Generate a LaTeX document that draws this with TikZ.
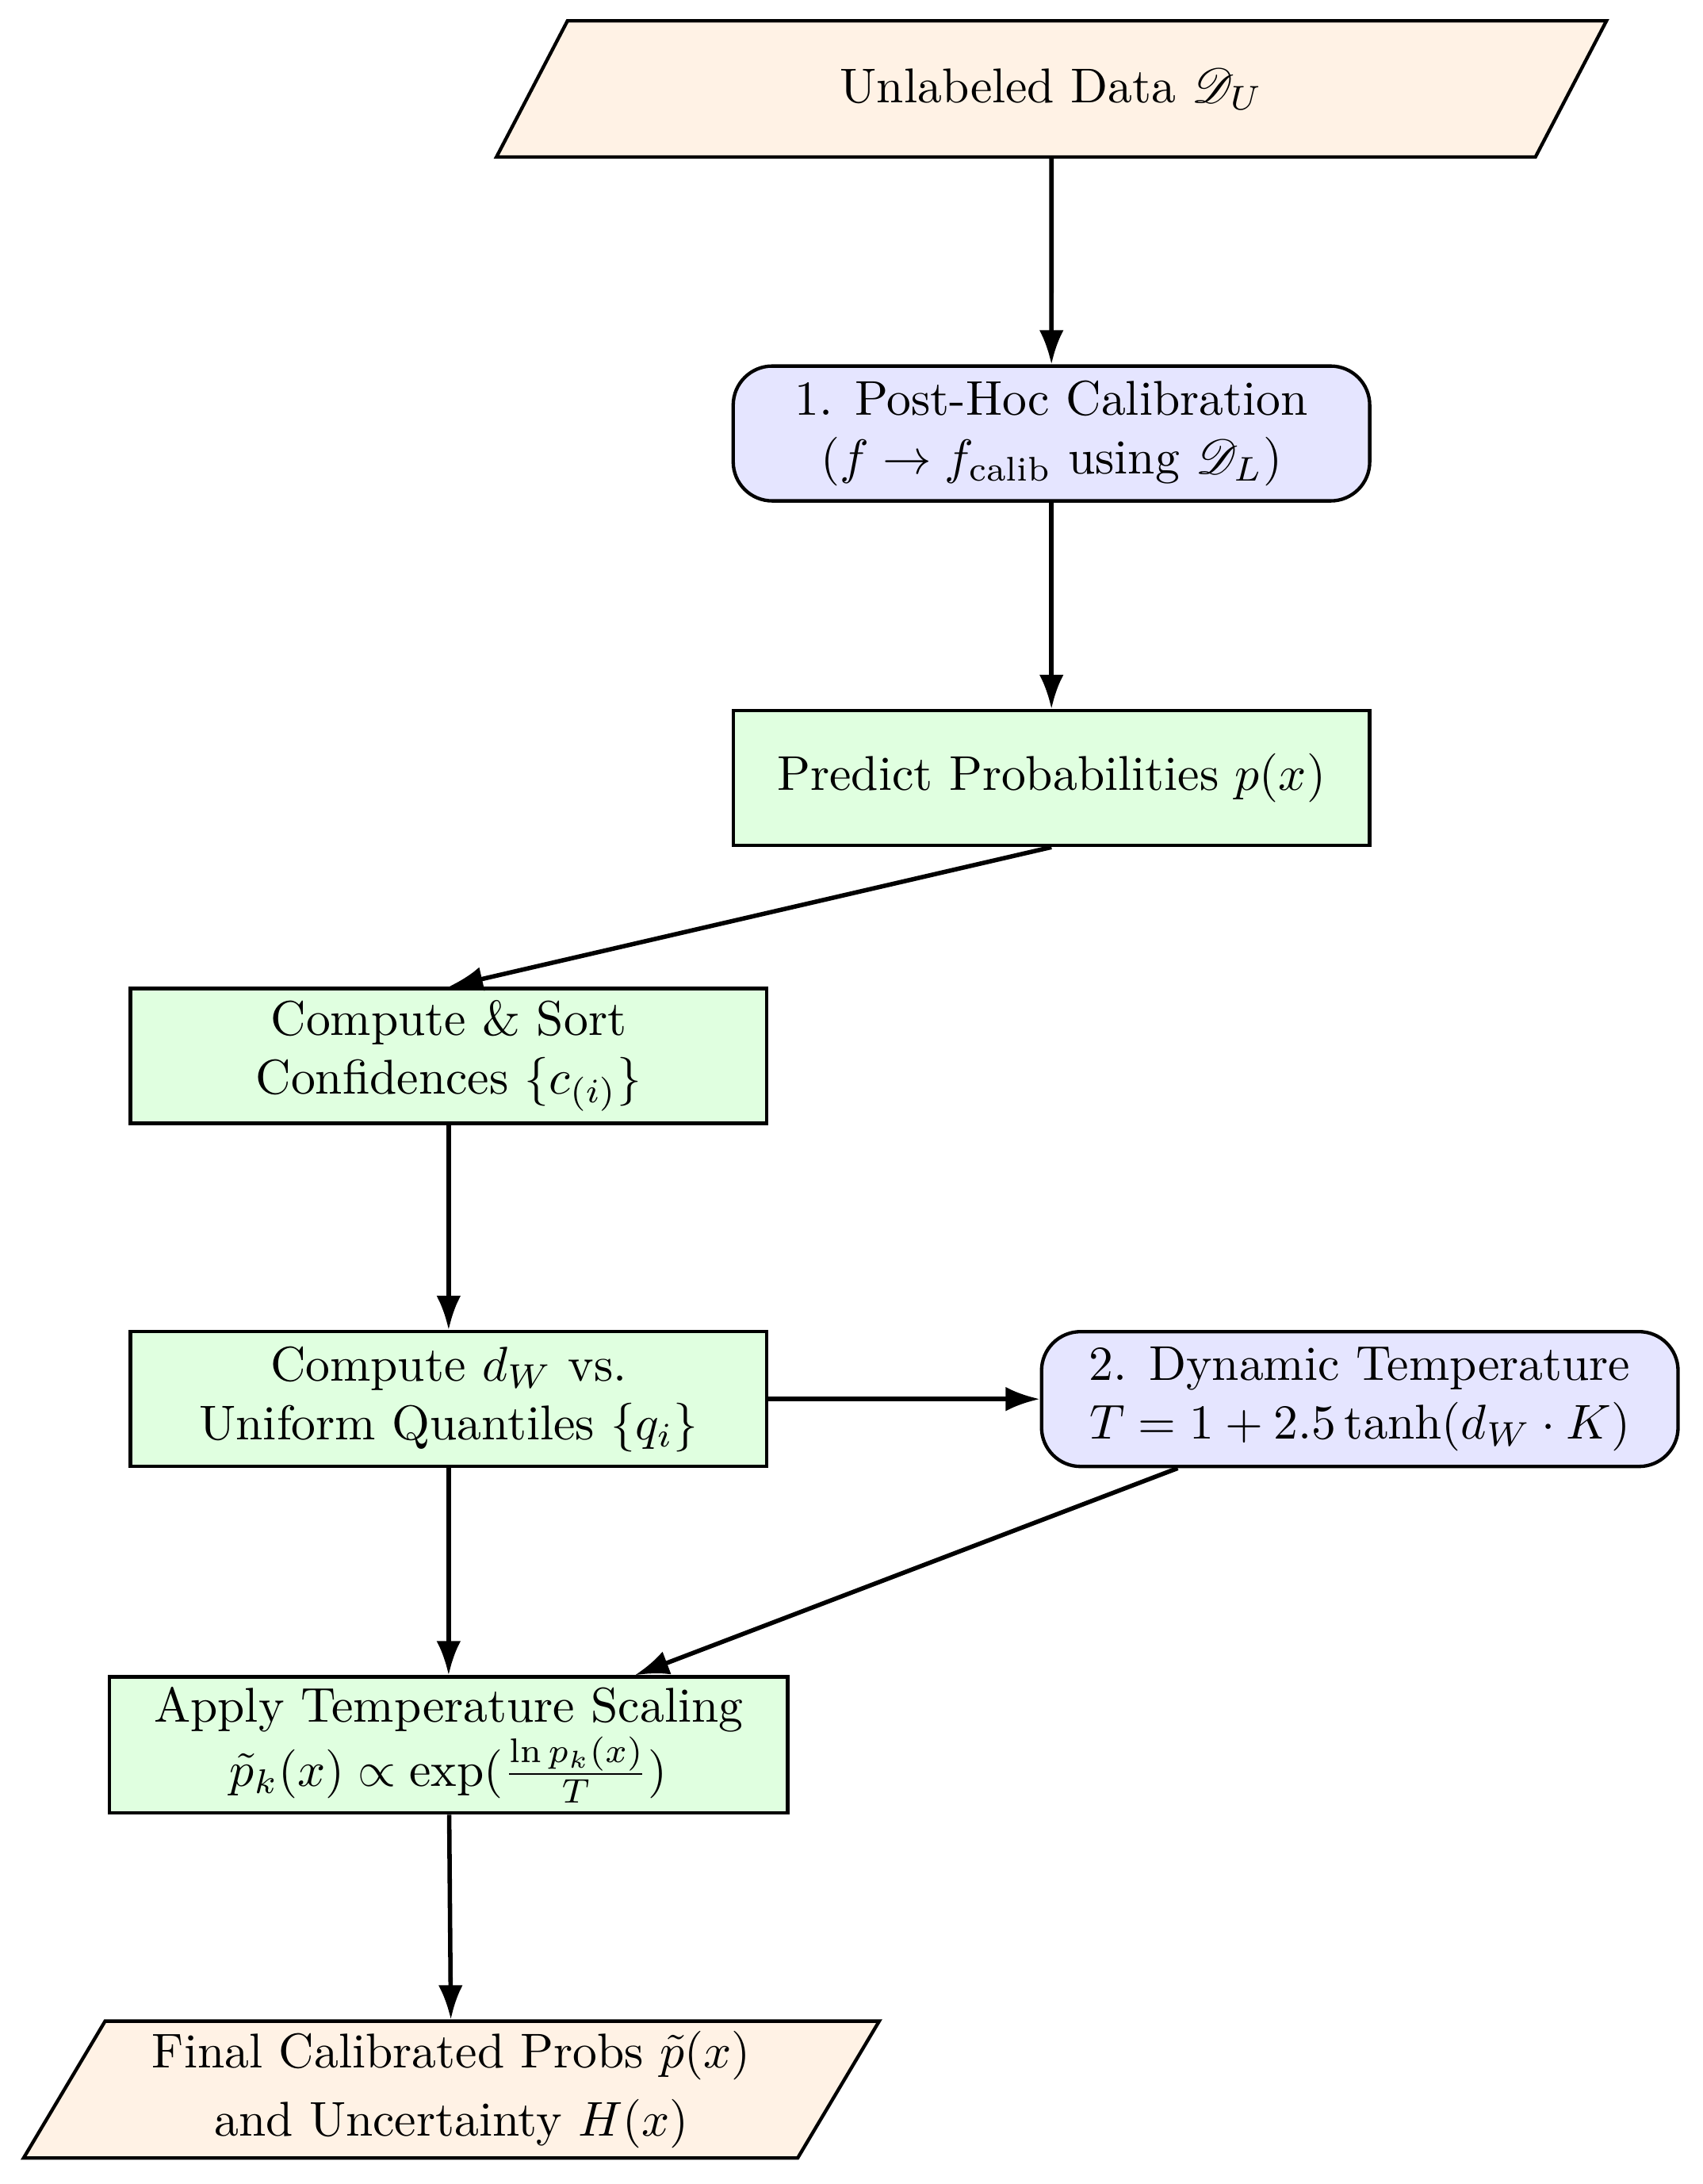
\documentclass[tikz,border=0pt]{standalone}
\usepackage{amsmath,amssymb,mathrsfs}
\usetikzlibrary{shapes.geometric,arrows.meta}
\begin{document}
\begin{tikzpicture}[x=0.01cm,y=-0.01cm,
  base/.style={draw=black,line width=0.7pt,align=center,minimum height=0.97cm,inner sep=2pt},
  io/.style={base,trapezium,trapezium left angle=62,trapezium right angle=118,fill=orange!10,trapezium stretches=true},
  proc/.style={base,rectangle,fill=green!12,minimum width=4.58cm},
  calib/.style={base,rectangle,rounded corners=8pt,fill=blue!10,minimum width=4.58cm},
  arr/.style={-{Latex[length=7pt,width=5pt]},line width=0.9pt}]
\useasboundingbox (0,0) rectangle (1226,1572);
\node[io,minimum width=7.99cm,minimum height=0.98cm] (u) at (757,64) {Unlabeled Data $\mathscr{D}_U$};
\node[calib] (ph) at (757,312) {1. Post-Hoc Calibration\\($f\to f_{\text{calib}}$ using $\mathscr{D}_L$)};
\node[proc] (pp) at (757,560) {Predict Probabilities $p(x)$};
\node[proc] (cs) at (323,760) {Compute \& Sort\\Confidences $\{c_{(i)}\}$};
\node[proc] (cd) at (323,1007) {Compute $d_W$ vs.\\Uniform Quantiles $\{q_i\}$};
\node[calib] (dt) at (979,1007) {2. Dynamic Temperature\\$T=1+2.5\tanh(d_W\cdot K)$};
\node[proc,minimum width=4.88cm,minimum height=0.98cm] (ap) at (323,1256) {Apply Temperature Scaling\\$\tilde p_k(x)\propto\exp(\frac{\ln p_k(x)}{T})$};
\node[io,minimum width=6.16cm,minimum height=0.98cm] (fc) at (325,1504) {Final Calibrated Probs $\tilde p(x)$\\[2pt]and Uncertainty $H(x)$};
\draw[arr] (u) -- (ph);
\draw[arr] (ph) -- (pp);
\draw[arr] (pp.south) -- (cs.north);
\draw[arr] (cs) -- (cd);
\draw[arr] (cd) -- (dt);
\draw[arr] (cd) -- (ap);
\draw[arr] ([xshift=-1.31cm]dt.south) -- ([xshift=1.34cm]ap.north);
\draw[arr] (ap) -- (fc);
\end{tikzpicture}
\end{document}
